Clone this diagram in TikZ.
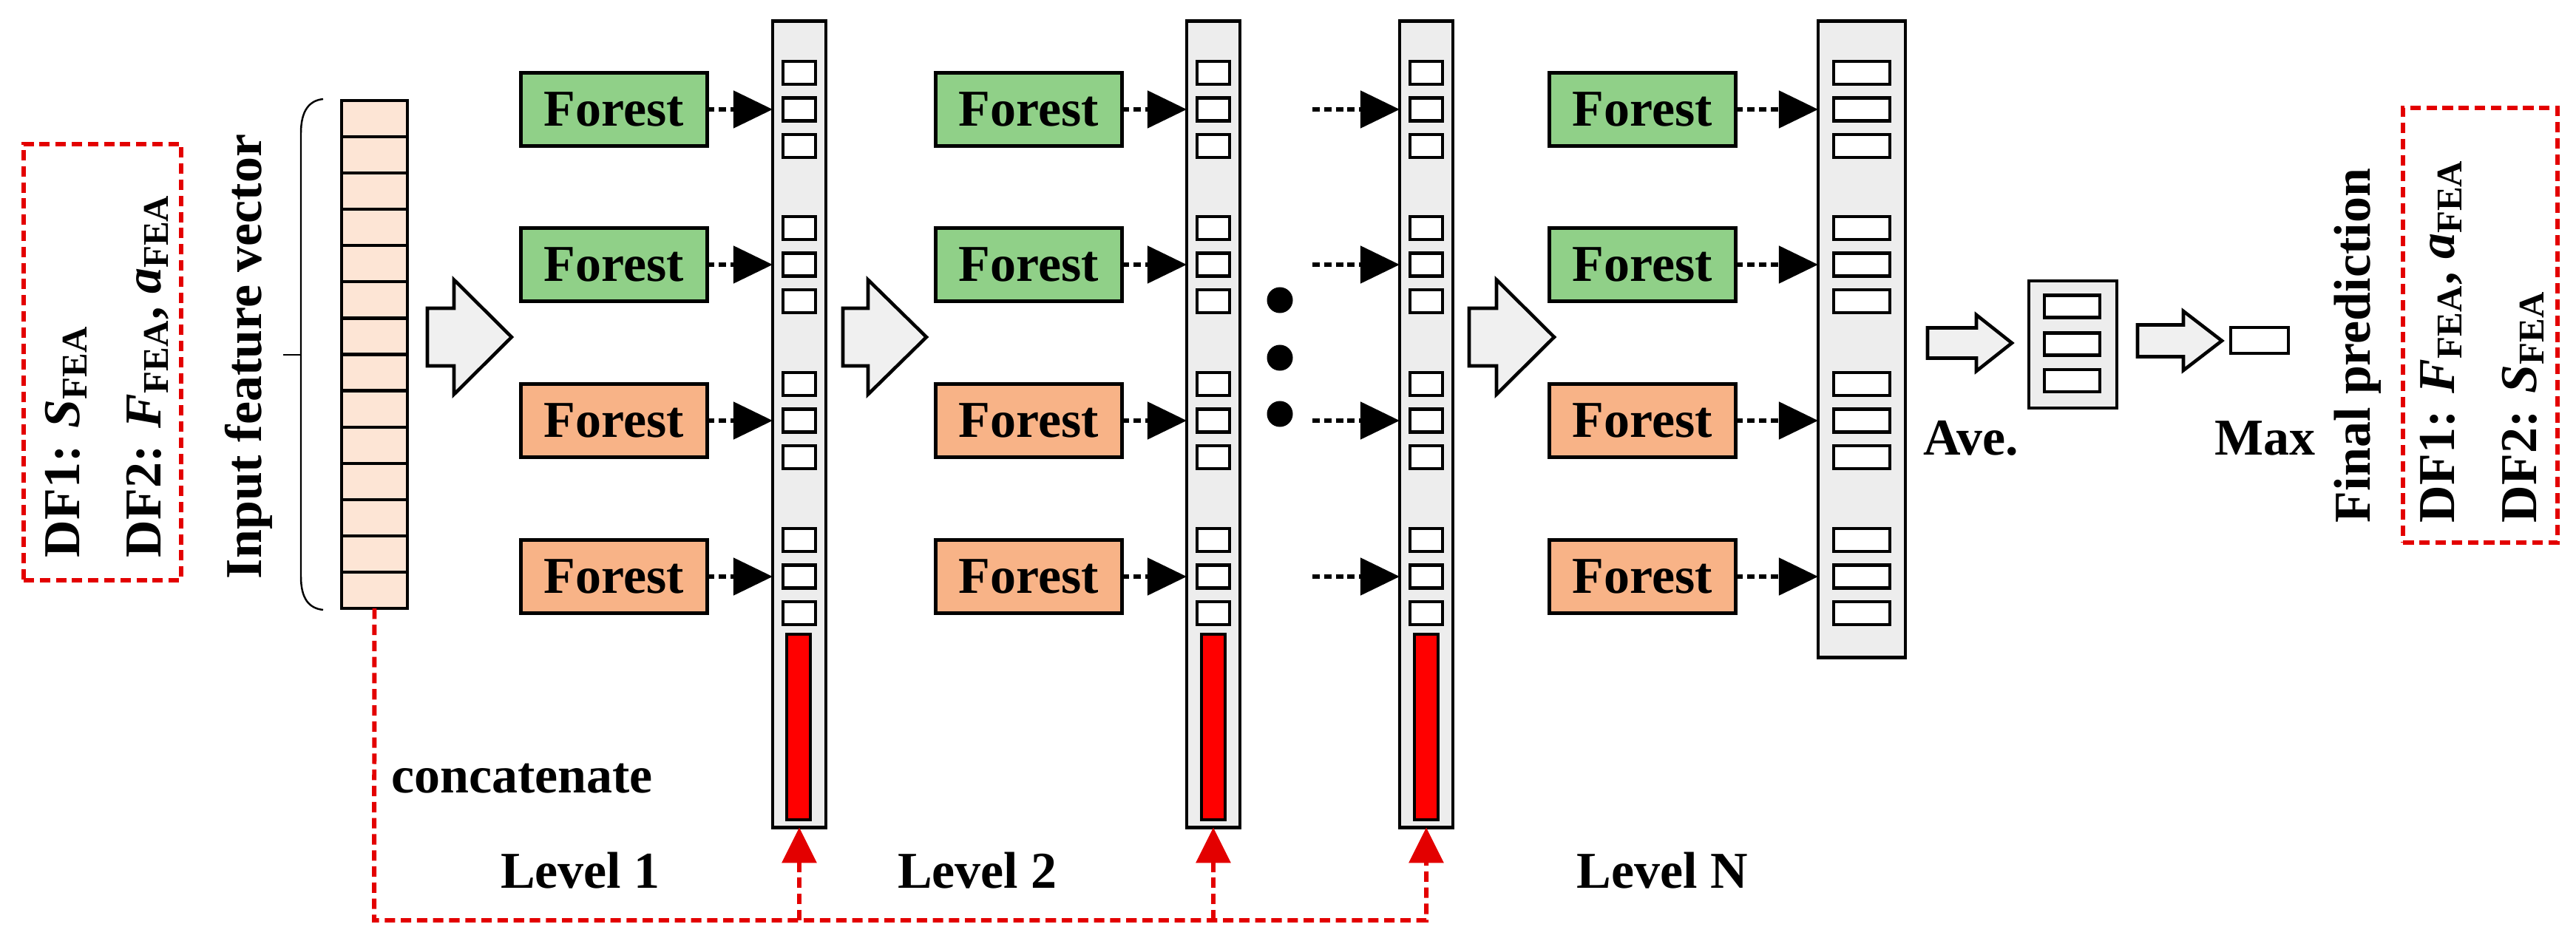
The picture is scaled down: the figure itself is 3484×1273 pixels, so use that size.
\documentclass[tikz,border=0pt]{standalone}
\usepackage{fontspec}
\setmainfont{Liberation Serif}
\usetikzlibrary{arrows.meta,calc}
\definecolor{fgreen}{HTML}{90D088}
\definecolor{forange}{HTML}{F8B387}
\definecolor{vecfill}{HTML}{FDE5D5}
\definecolor{colgray}{HTML}{EDEDED}
\definecolor{arrgray}{HTML}{F0F0F0}
\definecolor{dred}{HTML}{E30000}
\definecolor{barred}{HTML}{FF0000}
\newcommand{\fea}{\textsubscript{FEA}}
\newcommand{\blkarr}[6]{\draw[blockarr] (#1,#4-#5) -- (#2,#4-#5) -- (#2,#4-#6) -- (#3,#4) -- (#2,#4+#6) -- (#2,#4+#5) -- (#1,#4+#5) -- cycle;}
\begin{document}
\begin{tikzpicture}[x=0.01cm,y=-0.01cm,
  every node/.style={font=\fontsize{19.9pt}{24pt}\selectfont\bfseries, inner sep=0pt, outer sep=0pt},
  forestbox/.style={draw, line width=1.3pt, minimum width=2.52cm, minimum height=0.99cm},
  colbox/.style={draw, line width=1.3pt, fill=colgray},
  sq/.style={draw, line width=1.2pt, fill=white, minimum width=0.44cm, minimum height=0.31cm},
  bigsq/.style={sq, minimum width=0.76cm},
  redbar/.style={draw, line width=1.2pt, fill=barred, minimum width=0.32cm, minimum height=2.51cm},
  dasharr/.style={line width=1.5pt, dash pattern=on 2.8pt off 1.7pt, -{Triangle[length=0.53cm,width=0.50cm]}},
  redline/.style={dred, line width=1.7pt, dash pattern=on 4pt off 2.2pt},
  redarr/.style={redline, -{Triangle[length=0.48cm,width=0.46cm]}},
  redbox/.style={draw=dred, line width=1.7pt, dash pattern=on 4pt off 2.2pt},
  blockarr/.style={draw, line width=1.3pt, fill=arrgray, line join=miter},
  lbl/.style={anchor=base},
  rlbl/.style={rotate=90, anchor=base west},
  dotnode/.style={circle, fill=black, minimum size=0.35cm},
]
\useasboundingbox (0,0) rectangle (3484,1273);

% dashed red boxes
\node[redbox, minimum width=2.13cm, minimum height=5.90cm] (lbox) at (138.5,490) {};
\node[redbox, minimum width=2.08cm, minimum height=5.88cm] (rbox) at (3354.5,440) {};

% left texts
\node[rlbl] (ldf1) at (107,754) {DF1: \textit{S}\fea};
\node[rlbl] (ldf2) at (217,754) {DF2: \textit{F}\fea, \textit{a}\fea};
\node[rlbl] (tinput) at (353,783) {Input feature vector};

% brace
\draw[line width=0.7pt] (437,134) .. controls (418,136) and (407,150) .. (407,180) -- (407,780) .. controls (407,810) and (418,823) .. (437,825);
\draw[line width=0.7pt] (383,480) -- (407,480);

% input vector
\node[draw, line width=1.3pt, fill=vecfill, minimum width=0.89cm, minimum height=6.87cm] (vec) at (506.5,479.5) {};
\foreach \i in {1,...,13}
  \draw[line width=1.2pt] ($(vec.north west)!\i/14!(vec.south west)$) -- ($(vec.north east)!\i/14!(vec.south east)$);

% block arrows
\blkarr{578}{614}{692}{456}{39}{77.5}
\blkarr{1140}{1174}{1253}{456}{39}{77.5}
\blkarr{1987}{2024}{2102}{456}{39}{77.5}
\blkarr{2607}{2673}{2721}{464}{20.5}{38}
\blkarr{2891}{2953}{3005}{461}{21.5}{40}

% columns
\node[colbox, minimum width=0.72cm, minimum height=10.90cm] (c1) at (1081,574) {};
\node[colbox, minimum width=0.72cm, minimum height=10.90cm] (c2) at (1641,574) {};
\node[colbox, minimum width=0.72cm, minimum height=10.90cm] (c3) at (1929,574) {};
\node[colbox, minimum width=1.18cm, minimum height=8.60cm] (cN) at (2518,459) {};

\foreach \y [count=\i] in {148,358,569,780}
  \foreach \d [count=\k] in {-49.5,0,49.5} {
    \node[sq] (c1s\i\k) at (1081,{\y+\d}) {};
    \node[sq] (c2s\i\k) at (1641,{\y+\d}) {};
    \node[sq] (c3s\i\k) at (1929,{\y+\d}) {};
    \node[bigsq] (cNs\i\k) at (2518,{\y+\d}) {};
  }

\node[redbar] (b1) at (1080,983.5) {};
\node[redbar] (b2) at (1641,983.5) {};
\node[redbar] (b3) at (1929,983.5) {};

% forests and dashed arrows
\foreach \y/\fc [count=\i] in {148/fgreen,358/fgreen,569/forange,780/forange} {
  \node[forestbox, fill=\fc] (fa\i) at (830.5,\y) {Forest};
  \node[forestbox, fill=\fc] (fb\i) at (1391.5,\y) {Forest};
  \node[forestbox, fill=\fc] (fn\i) at (2221.5,\y) {Forest};
  \coordinate (s\i) at (1775,\y);
  \draw[dasharr] (fa\i.east) -- (fa\i.east -| c1.west);
  \draw[dasharr] (fb\i.east) -- (fb\i.east -| c2.west);
  \draw[dasharr] (s\i) -- (s\i -| c3.west);
  \draw[dasharr] (fn\i.east) -- (fn\i.east -| cN.west);
}

% dots
\node[dotnode] (dot1) at (1731,406) {};
\node[dotnode] (dot2) at (1731,484) {};
\node[dotnode] (dot3) at (1731,560) {};

% concatenate lines
\coordinate (cb) at (506,1245);
\coordinate (ce) at (1929,1245);
\draw[redarr] (vec.south) -- (cb) -- (ce) -- (c3.south);
\draw[redarr] (cb -| c1.south) -- (c1.south);
\draw[redarr] (cb -| c2.south) -- (c2.south);

% average and max
\node[colbox, minimum width=1.19cm, minimum height=1.72cm] (avebox) at (2803.5,466) {};
\node[bigsq, minimum width=0.75cm, minimum height=0.30cm] (av1) at (2802.5,414.5) {};
\node[bigsq, minimum width=0.75cm, minimum height=0.30cm] (av2) at (2802.5,465.5) {};
\node[bigsq, minimum width=0.75cm, minimum height=0.30cm] (av3) at (2802.5,515) {};
\node[draw, line width=1.3pt, fill=white, minimum width=0.78cm, minimum height=0.35cm] (maxbox) at (3056,460.5) {};

% labels
\node[lbl] (tconcat) at (706,1072) {concatenate};
\node[lbl] (tl1) at (785,1201) {Level 1};
\node[lbl] (tl2) at (1322,1201) {Level 2};
\node[lbl] (tln) at (2248,1201) {Level N};
\node[lbl] (tave) at (2666,615) {Ave.};
\node[lbl] (tmax) at (3063,615) {Max};
\node[rlbl] (tfinal) at (3205,707) {Final prediction};
\node[rlbl] (rdf1) at (3319,707) {DF1: \textit{F}\fea, \textit{a}\fea};
\node[rlbl] (rdf2) at (3430,707) {DF2: \textit{S}\fea};
\end{tikzpicture}
\end{document}
